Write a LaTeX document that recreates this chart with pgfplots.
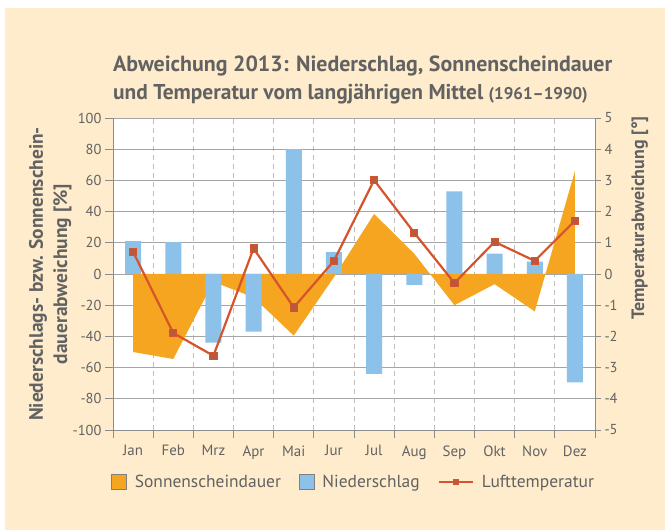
\documentclass[border=0pt]{standalone}
\usepackage{pgfplots}
\pgfplotsset{compat=1.18}
\usepackage{fontspec}
\setmainfont{PT Sans}
\definecolor{bgcream}{RGB}{254,236,205}
\definecolor{sunorange}{RGB}{246,165,32}
\definecolor{rainblue}{RGB}{140,193,233}
\definecolor{tempred}{RGB}{214,84,44}
\definecolor{markfill}{RGB}{186,88,62}
\definecolor{textgray}{RGB}{98,98,98}
\definecolor{axisgray}{RGB}{140,140,140}
\definecolor{gridgray}{RGB}{165,165,165}
\definecolor{dashgray}{RGB}{190,190,190}
\pgfplotsset{
  templine legend/.style={legend image code/.code={\draw[##1, mark size=2.6bp, mark repeat=2, mark phase=2] plot coordinates {(0bp,0bp) (17bp,0bp) (34bp,0bp)};}}
}
\begin{document}
\begin{tikzpicture}
\fill[white] (0,0) rectangle (665bp,530bp);
\useasboundingbox (0,0) rectangle (665bp,530bp);
\fill[bgcream] (5bp,0) rectangle (665bp,522bp);
\node[anchor=base west, inner sep=0, font=\fontsize{22}{26}\selectfont\bfseries, text=textgray] at (113bp,458bp) {Abweichung 2013: Niederschlag, Sonnenscheindauer};
\node[anchor=base west, inner sep=0, font=\fontsize{21.5}{26}\selectfont\bfseries, text=textgray] at (113bp,430bp) {und Temperatur vom langjährigen Mittel {\fontsize{17}{20}\selectfont (1961–1990)}};

\begin{axis}[
  at={(113bp,100bp)}, anchor=south west,
  scale only axis, width=482bp, height=312bp,
  xmin=-0.5, xmax=11.5, ymin=-100, ymax=100,
  axis x line*=bottom, axis y line*=left,
  axis line style={draw=axisgray, line width=0.9bp},
  xtick={-0.5,0.5,...,11.5},
  x tick label as interval,
  xticklabels={Jan,Feb,Mrz,Apr,Mai,Jur,Jul,Aug,Sep,Okt,Nov,Dez},
  ytick={-100,-80,...,100},
  xmajorgrids, ymajorgrids,
  x grid style={draw=dashgray, dash pattern=on 5bp off 4bp, line width=0.8bp},
  y grid style={draw=gridgray, line width=0.8bp},
  tick align=outside, major tick length=8bp,
  tick style={draw=axisgray, line width=0.9bp},
  tick label style={font=\fontsize{14.5}{16}\selectfont, text=textgray},
  xticklabel style={font=\fontsize{15}{17}\selectfont, yshift=-4bp},
  /pgf/number format/assume math mode=true,
  axis background/.style={fill=white},
  ylabel={Niederschlags- bzw. Sonnenschein-\\dauerabweichung [\%]},
  ylabel style={at={(axis description cs:-0.13,0.5)}, anchor=center, align=center,
    font=\fontsize{19.5}{24.5}\selectfont\bfseries, text=textgray},
]
\addplot[fill=sunorange, draw=none] coordinates {
 (0,-50) (1,-54.5) (2,-5) (3,-15) (4,-39.5) (5,-2)
 (6,38.5) (7,13) (8,-20) (9,-6.5) (10,-24) (11,66)} \closedcycle;
\addplot[ybar, bar width=16bp, fill=rainblue, draw=none] coordinates {
 (0,21) (1,20.5) (2,-44) (3,-37) (4,80) (5,14)
 (6,-64) (7,-7) (8,53) (9,13) (10,8) (11,-69.5)};
\end{axis}

\begin{axis}[
  at={(113bp,100bp)}, anchor=south west,
  scale only axis, width=482bp, height=312bp,
  xmin=-0.5, xmax=11.5, ymin=-5, ymax=5,
  axis x line=none, axis y line*=right,
  axis line style={draw=axisgray, line width=0.9bp},
  ytick={-5,-4,...,5},
  tick align=outside, major tick length=6bp,
  tick style={draw=axisgray, line width=0.9bp},
  tick label style={font=\fontsize{14.5}{16}\selectfont, text=textgray},
  /pgf/number format/assume math mode=true,
  ylabel={Temperaturabweichung [°]},
  ylabel style={at={(axis description cs:1.093,0.68)}, anchor=center,
    font=\fontsize{18}{21}\selectfont\bfseries, text=textgray},
  legend columns=3,
  legend cell align=left,
  legend style={at={(axis description cs:-0.01,-0.167)}, anchor=west,
    draw=none, fill=none, font=\fontsize{17.5}{20}\selectfont, text=textgray,
    /tikz/every even column/.append style={column sep=16bp},
    /tikz/every odd column/.append style={column sep=6bp}},
]
\addlegendimage{legend image code/.code={\draw[fill=sunorange, draw=gray, line width=0.5bp] (0bp,-7.5bp) rectangle (15bp,7.5bp);}}
\addlegendentry{Sonnenscheindauer}
\addlegendimage{legend image code/.code={\draw[fill=rainblue, draw=gray, line width=0.5bp] (0bp,-7.5bp) rectangle (15bp,7.5bp);}}
\addlegendentry{Niederschlag}
\addplot[color=tempred, line width=2.2bp, mark=square*, mark size=3.6bp,
  mark options={fill=markfill, draw=tempred, line width=0.8bp},
  templine legend]
 coordinates {
 (0,0.71) (1,-1.89) (2,-2.62) (3,0.82) (4,-1.07) (5,0.42)
 (6,3.01) (7,1.32) (8,-0.29) (9,1.03) (10,0.42) (11,1.71)};
\addlegendentry{Lufttemperatur}
\end{axis}
\end{tikzpicture}
\end{document}
